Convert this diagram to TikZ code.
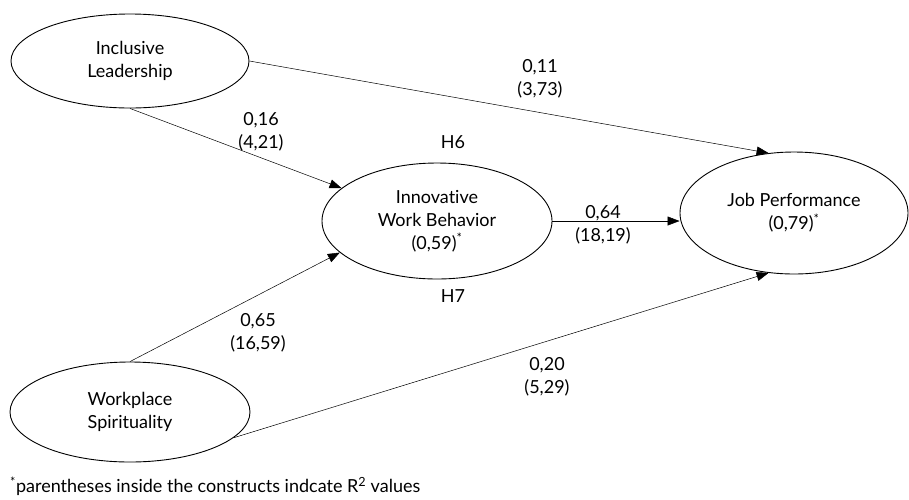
\documentclass[tikz,border=0pt]{standalone}
\usepackage{fontspec}
\setmainfont{Lato}[Ligatures=NoCommon]
\usetikzlibrary{shapes.geometric,arrows.meta}

\begin{document}
\begin{tikzpicture}[x=1pt,y=-1pt,
  construct/.style={ellipse,draw,line width=0.9pt,inner sep=0pt,align=center,font=\fontsize{18}{23}\selectfont},
  coef/.style={align=center,font=\fontsize{18}{23}\selectfont,inner sep=0pt},
  path/.style={line width=0.5pt,-{Triangle[length=12pt,width=9pt]}}]
\useasboundingbox (0,0) rectangle (909,499);
\node[construct,minimum width=238,minimum height=94] (il) at (130,61) {Inclusive\\Leadership};
\node[construct,minimum width=230,minimum height=116] (iwb) at (437,221) {Innovative\\Work Behavior\\(0,59)\textsuperscript{*}};
\node[construct,minimum width=228,minimum height=122] (jp) at (794,213) {Job Performance\\(0,79)\textsuperscript{*}};
\node[construct,minimum width=240,minimum height=100] (ws) at (130,412) {Workplace\\Spirituality};
\draw[path] (il.south) -- (iwb.161);
\draw[path] (il.east) -- (jp.113);
\draw[path] (ws.north) -- (iwb.198);
\draw[path] (ws.-14) -- (jp.247);
\draw[path] (iwb.east) -- (iwb.east -| jp.west);
\node[coef] (c16) at (261,132) {0,16\\(4,21)};
\node[coef] (c11) at (540,79) {0,11\\(3,73)};
\node[coef] (c64) at (603,225) {0,64\\(18,19)};
\node[coef] (c65) at (258,333) {0,65\\(16,59)};
\node[coef] (c20) at (547,377) {0,20\\(5,29)};
\node[coef] (h6) at (453,142) {H6};
\node[coef] (h7) at (453,296) {H7};
\node[coef,anchor=west] (note) at (10,486) {\textsuperscript{*}parentheses inside the constructs indcate R\textsuperscript{2} values};
\end{tikzpicture}
\end{document}
